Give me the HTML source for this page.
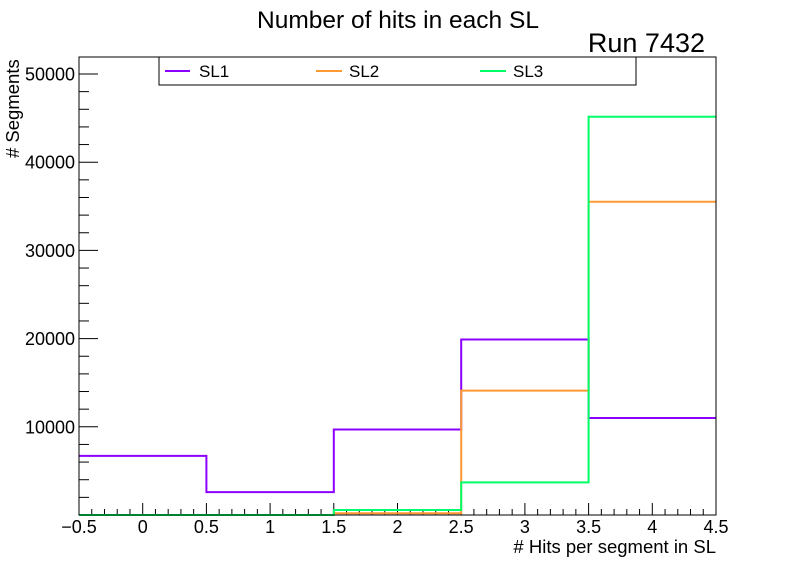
<!DOCTYPE html>
<html><head><meta charset="utf-8"><style>
html,body{margin:0;padding:0;background:#fff}
svg{display:block;font-family:"Liberation Sans",sans-serif}
</style></head><body>
<svg id="c" width="796" height="572" viewBox="0 0 796 572">
<rect x="0" y="0" width="796" height="572" fill="#fff"/>
<text x="398" y="28" font-size="24.5" text-anchor="middle">Number of hits in each SL</text>
<text x="705" y="52" font-size="27" text-anchor="end">Run 7432</text>
<g id="ticks"></g>
<g id="series"></g>
<rect x="79" y="57" width="637" height="458" fill="none" stroke="#000" stroke-width="1"/>
<text x="716" y="553" font-size="18.5" text-anchor="end"># Hits per segment in SL</text>
<text transform="translate(19,158) rotate(-90)" font-size="18.5" text-anchor="start"># Segments</text>
<g>
<rect x="159" y="57" width="477" height="28" fill="#fff" stroke="#000" stroke-width="1"/>
<line x1="165" y1="71" x2="190" y2="71" stroke="#8c00ff" stroke-width="2"/>
<text x="199" y="77" font-size="17">SL1</text>
<line x1="316" y1="71" x2="342" y2="71" stroke="#ff9933" stroke-width="2"/>
<text x="349" y="77" font-size="17">SL2</text>
<line x1="480" y1="71" x2="506" y2="71" stroke="#00ff66" stroke-width="2"/>
<text x="513" y="77" font-size="17">SL3</text>
</g>
</svg>
<script>
const binEdges = [-0.5, 0.5, 1.5, 2.5, 3.5, 4.5];
const sl1Values = [6700, 2600, 9700, 19900, 11000];
const sl2Values = [0, 0, 200, 14100, 35520];
const sl3Values = [0, 0, 570, 3700, 45160];
const xTickLabels = ["\u22120.5","0","0.5","1","1.5","2","2.5","3","3.5","4","4.5"];
const yTickLabels = ["10000","20000","30000","40000","50000"];
const NS="http://www.w3.org/2000/svg";
const X0=79,X1=716,Y0=515,Y1=57;
function xs(v){return X0+(v+0.5)*(X1-X0)/5;}
function ys(v){return Y0-v*0.00882;}
function mk(t,a,p){const e=document.createElementNS(NS,t);for(const k in a)e.setAttribute(k,a[k]);p.appendChild(e);return e;}
const tg=document.getElementById('ticks');
for(let i=0;i<=50;i++){const v=-0.5+i*0.1;const x=xs(v);const len=(i%5===0)?12:6;
 const l=mk('line',{x1:x,y1:Y0,x2:x,y2:Y0-len,stroke:'#000','stroke-width':1},tg);
 
 }
xTickLabels.forEach((s,i)=>{const t=mk('text',{x:xs(-0.5+i*0.5),y:533,'font-size':18,'text-anchor':'middle'},tg);t.textContent=s;
 
 });
for(let v=2000;v<=52000;v+=2000){const y=ys(v);if(y<Y1)break;const len=(v%10000===0)?19:10;
 const l=mk('line',{x1:X0,y1:y,x2:X0+len,y2:y,stroke:'#000','stroke-width':1},tg);
 
 }
yTickLabels.forEach((s)=>{const t=mk('text',{x:75,y:ys(+s)+6.5,'font-size':18,'text-anchor':'end'},tg);t.textContent=s;
 
 });
const sg=document.getElementById('series');
function drawHist(vals,color,name){let d='';
 vals.forEach((v,i)=>{const xa=xs(binEdges[i]),xb=xs(binEdges[i+1]),y=ys(v);
  d+=(i===0?'M'+xa+','+y:'L'+xa+','+y)+' L'+xb+','+y+' ';});
 const p=mk('path',{d:d,fill:'none',stroke:color,'stroke-width':2},sg);
 
 }
drawHist(sl1Values,'#8c00ff','series-sl1');
drawHist(sl2Values,'#ff9933','series-sl2');
drawHist(sl3Values,'#00ff66','series-sl3');
</script>
</body></html>
